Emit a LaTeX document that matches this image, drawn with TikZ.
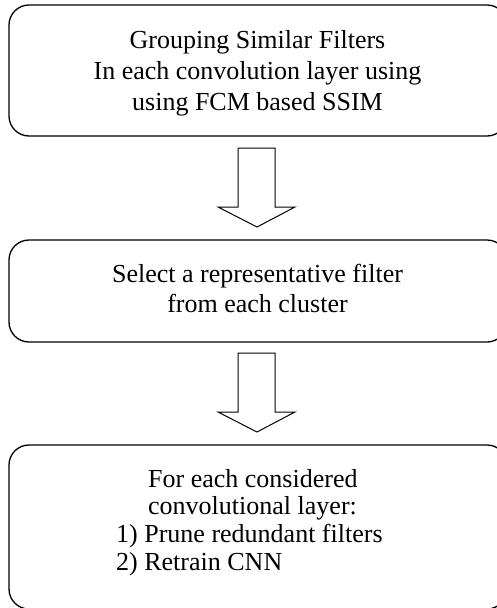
\documentclass[tikz,border=0pt]{standalone}
\usepackage{fontspec}
\setmainfont{Liberation Serif}
\begin{document}
\begin{tikzpicture}[x=1pt,y=-1pt,
  stepbox/.style={draw=black,line width=1.3pt,rounded corners=20pt,inner sep=0pt},
  boxtext/.style={inner sep=0pt,font=\fontsize{26}{31}\selectfont},
  downarr/.pic={\draw[line width=1pt,line join=miter] (-19,0) -- (-19,59) -- (-39,59) -- (0,79) -- (38,59) -- (18,59) -- (18,0) -- cycle;}
]
\useasboundingbox (0,0) rectangle (497,608);
\clip (0,0) rectangle (497,608);
\draw[stepbox] (9,5) rectangle (507,136);
\draw[stepbox] (9,240) rectangle (507,342);
\draw[stepbox] (9,445) rectangle (507,609);
\node[boxtext,align=center] (t1) at (257.5,73) {Grouping Similar Filters\\In each convolution layer using\\using FCM based SSIM};
\node[boxtext,align=center,font=\fontsize{26}{30}\selectfont] (t2) at (257.5,288) {Select a representative filter\\from each cluster};
\node[boxtext,align=left,anchor=west,font=\fontsize{26}{27.7}\selectfont] (t3) at (116,522.5) {\hspace*{32pt}For each considered\\\hspace*{32pt}convolutional layer:\\1) Prune redundant filters\\2) Retrain CNN};
\pic at (257,148) {downarr};
\pic at (257,353) {downarr};
\end{tikzpicture}
\end{document}
